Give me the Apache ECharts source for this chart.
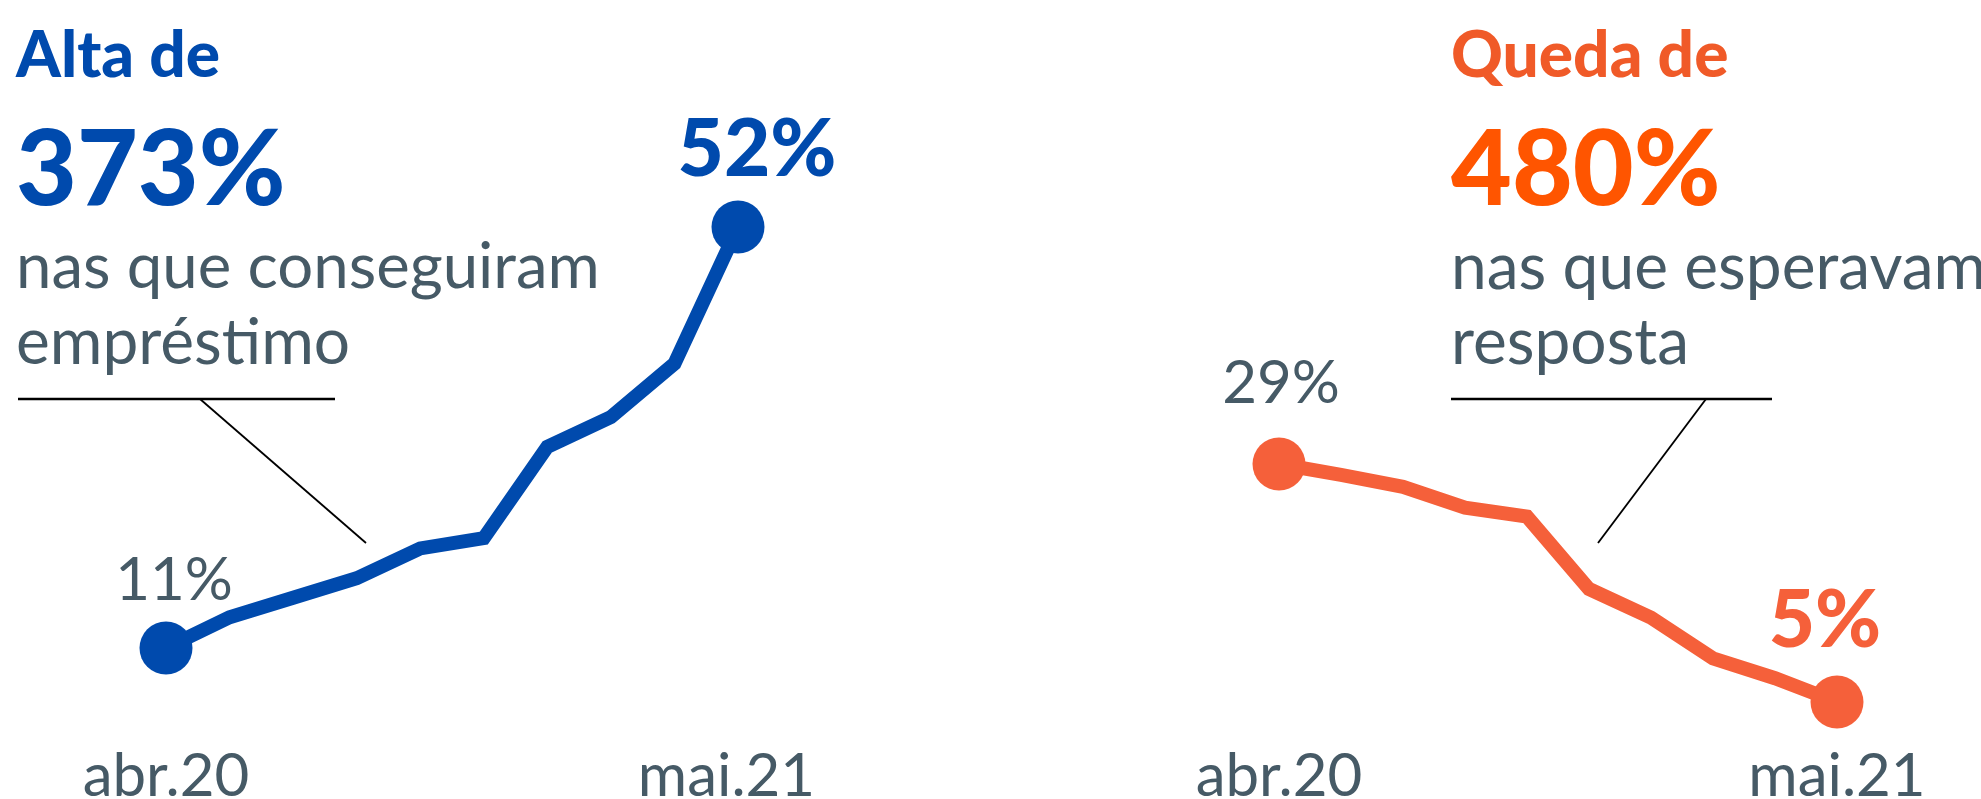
<!DOCTYPE html>
<html>
<head>
<meta charset="utf-8">
<script src="https://cdn.jsdelivr.net/npm/echarts@6/dist/echarts.min.js"></script>
<style>
html,body{margin:0;padding:0;background:#fff;}
#c{width:1981px;height:799px;}
</style>
</head>
<body>
<div id="c"></div>
<script>
// ---- data ----
const categories = ['abr.20', '', '', '', '', '', '', '', '', 'mai.21'];
const emprestimo = [11, 14, 15.9, 17.8, 20.7, 21.7, 30.6, 33.5, 38.7, 52];
const esperavam  = [29, 27.9, 26.7, 24.6, 23.7, 16.4, 13.5, 9.4, 7.4, 5];
const leftTitle = 'Alta de';
const leftBig = '373%';
const leftText = ['nas que conseguiram', 'empréstimo'];
const rightTitle = 'Queda de';
const rightBig = '480%';
const rightText = ['nas que esperavam', 'resposta'];

// ---- style ----
const BLUE = '#004aad';
const ORANGE_LINE = '#f5603a';
const ORANGE_TITLE = '#f05a28';
const ORANGE_BIG = '#ff5500';
const GRAY = '#465a66';
const FONT = 'Lato';

const chart = echarts.init(document.getElementById('c'), null, {renderer: 'canvas'});

function buildData(values, firstLabel, lastLabel) {
  const n = values.length;
  return values.map((v, i) => {
    const item = {value: v};
    if (i === 0) item.label = firstLabel;
    else if (i === n - 1) item.label = lastLabel;
    else item.label = {show: false};
    return item;
  });
}

const labelBase = {show: true, position: 'top', fontFamily: FONT, formatter: p => p.value + '%'};

const leftData = buildData(emprestimo,
  Object.assign({}, labelBase, {fontSize: 60, color: GRAY, distance: 11, offset: [8, 0]}),
  Object.assign({}, labelBase, {fontSize: 80, fontWeight: 900, color: BLUE, distance: 10, offset: [19, 0]}));
const rightData = buildData(esperavam,
  Object.assign({}, labelBase, {fontSize: 60, color: GRAY, distance: 24, offset: [2, 0]}),
  Object.assign({}, labelBase, {fontSize: 80, fontWeight: 900, color: ORANGE_LINE, distance: 14, offset: [-12, 0]}));

const n = categories.length;
const symSize = (val, params) => (params.dataIndex === 0 || params.dataIndex === n - 1) ? 53 : 0;

const labelStyle = {fontFamily: FONT, fontSize: 60, color: GRAY};
const xAxisBase = {
  type: 'category', boundaryGap: false, data: categories,
  axisLine: {show: false}, axisTick: {show: false}, splitLine: {show: false}
};

function textEl(x, y, text, size, weight, color) {
  return {type: 'text', style: {x: x, y: y, text: text, font: weight + ' ' + size + 'px ' + FONT,
    fill: color, textVerticalAlign: 'bottom', verticalAlign: 'bottom'}};
}

const option = {
  backgroundColor: '#ffffff',
  animation: false,
  grid: [
    {left: 166, top: 144.9, width: 572, height: 616.1, containLabel: false, outerBoundsMode: 'none'},
    {left: 1279, top: 156.6, width: 558, height: 595, containLabel: false, outerBoundsMode: 'none'}
  ],
  xAxis: [
    Object.assign({}, xAxisBase, {gridIndex: 0, axisLabel: Object.assign({}, labelStyle, {
      margin: -14,
      interval: (i) => i === 0 || i === n - 1,
      formatter: (v, i) => i === n - 1 ? '{last|' + v + '}' : v,
      rich: {last: Object.assign({}, labelStyle, {padding: [0, 23, 0, 0]})}
    })}),
    Object.assign({}, xAxisBase, {gridIndex: 1, axisLabel: Object.assign({}, labelStyle, {
      margin: -5,
      interval: (i) => i === 0 || i === n - 1
    })})
  ],
  yAxis: [
    {type: 'value', gridIndex: 0, min: 0, max: 60, show: false},
    {type: 'value', gridIndex: 1, min: 0, max: 60, show: false}
  ],
  series: [
    {type: 'line', xAxisIndex: 0, yAxisIndex: 0, data: leftData,
     symbol: 'circle', symbolSize: symSize, showAllSymbol: true,
     lineStyle: {color: BLUE, width: 14, join: 'miter'}, itemStyle: {color: BLUE}},
    {type: 'line', xAxisIndex: 1, yAxisIndex: 1, data: rightData,
     symbol: 'circle', symbolSize: symSize, showAllSymbol: true,
     lineStyle: {color: ORANGE_LINE, width: 14, join: 'miter'}, itemStyle: {color: ORANGE_LINE}}
  ],
  graphic: [
    textEl(16, 88, leftTitle, 64, 900, BLUE),
    textEl(16, 224, leftBig, 105, 900, BLUE),
    textEl(16, 300, leftText[0], 63.5, 400, GRAY),
    textEl(16, 375, leftText[1], 64, 400, GRAY),
    textEl(1451, 88, rightTitle, 64, 900, ORANGE_TITLE),
    textEl(1451, 224, rightBig, 105, 900, ORANGE_BIG),
    textEl(1451, 300, rightText[0], 64, 400, GRAY),
    textEl(1451, 375, rightText[1], 64, 400, GRAY),
    {type: 'line', shape: {x1: 18, y1: 399, x2: 335, y2: 399}, style: {stroke: '#000', lineWidth: 2.5}},
    {type: 'line', shape: {x1: 200, y1: 399, x2: 366, y2: 543}, style: {stroke: '#000', lineWidth: 1.8}},
    {type: 'line', shape: {x1: 1451, y1: 399, x2: 1772, y2: 399}, style: {stroke: '#000', lineWidth: 2.5}},
    {type: 'line', shape: {x1: 1706, y1: 399, x2: 1598, y2: 543}, style: {stroke: '#000', lineWidth: 1.8}}
  ]
};
chart.setOption(option);
</script>
</body>
</html>
